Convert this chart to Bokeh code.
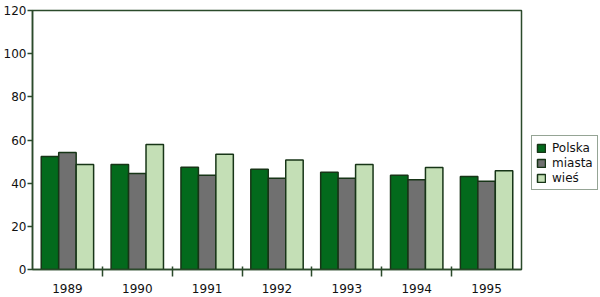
from bokeh.plotting import figure
from bokeh.layouts import row
from bokeh.models import ColumnDataSource, FixedTicker, Legend, LegendItem, Range1d
from bokeh.transform import dodge
from bokeh.embed import file_html
from bokeh.resources import INLINE

years = [1989, 1990, 1991, 1992, 1993, 1994, 1995]
polska = [52.4, 48.7, 47.4, 46.5, 45.1, 43.7, 43.1]
miasta = [54.2, 44.5, 43.7, 42.3, 42.3, 41.6, 40.9]
wies = [48.7, 57.9, 53.4, 50.7, 48.7, 47.3, 45.7]
series_names = ["Polska", "miasta", "wieś"]
y_ticks = [0, 20, 40, 60, 80, 100, 120]

src = ColumnDataSource(dict(year=years, polska=polska, miasta=miasta, wies=wies))

AX = "#2b4a2b"
FONT = "DejaVu Sans"
colors = ["#036a1c", "#707070", "#c4dfb6"]
fields = ["polska", "miasta", "wies"]
offsets = [-0.25, 0.0, 0.25]

p = figure(width=531, height=297, output_backend="svg", toolbar_location=None,
           x_range=Range1d(years[0] - 0.5, years[-1] + 0.5),
           y_range=Range1d(0, 120),
           min_border_left=32, min_border_right=10, min_border_top=10, min_border_bottom=28)
p.background_fill_color = "white"
p.border_fill_color = "white"
p.outline_line_color = AX
p.outline_line_width = 1.5
p.xgrid.visible = False
p.ygrid.visible = False

for f, c, o in zip(fields, colors, offsets):
    p.vbar(x=dodge("year", o, range=p.x_range), top=f, width=0.25, bottom=0,
           source=src, fill_color=c, line_color="#173517", line_width=1.5)

xa = p.xaxis[0]
xa.ticker = FixedTicker(ticks=years, minor_ticks=[y + 0.5 for y in years[:-1]])
xa.major_label_overrides = {y: str(y) for y in years}
xa.major_tick_line_color = None
xa.minor_tick_in = 3
xa.minor_tick_out = 7
xa.minor_tick_line_color = AX
xa.minor_tick_line_width = 1.5
xa.axis_line_color = AX
xa.axis_line_width = 1.5
xa.major_label_standoff = 7
xa.major_label_text_font = FONT
xa.major_label_text_font_size = "12px"
xa.major_label_text_color = "#111111"

ya = p.yaxis[0]
ya.ticker = FixedTicker(ticks=y_ticks)
ya.minor_tick_line_color = None
ya.major_tick_in = 0
ya.major_tick_out = 5
ya.major_tick_line_color = AX
ya.major_tick_line_width = 1.5
ya.axis_line_color = AX
ya.axis_line_width = 1.5
ya.major_label_standoff = 1
ya.major_label_text_font = FONT
ya.major_label_text_font_size = "12px"
ya.major_label_text_color = "#111111"

# legend panel (separate figure holding only the legend; its renderers are hidden)
lg = figure(width=69, height=297, output_backend="svg", toolbar_location=None,
            x_range=Range1d(years[0] - 0.5, years[-1] + 0.5), y_range=Range1d(0, 120),
            min_border_left=0, min_border_right=0, min_border_top=0, min_border_bottom=0)
lg.axis.visible = False
lg.grid.visible = False
lg.outline_line_color = None
lg.background_fill_color = "white"
lg.border_fill_color = "white"
lrs = []
for f, c in zip(fields, colors):
    r = lg.vbar(x="year", top=f, width=0.25, source=src,
                fill_color=c, line_color="#173517", line_width=1.5)
    r.visible = False
    lrs.append(r)

legend = Legend(items=[LegendItem(label=n, renderers=[r]) for n, r in zip(series_names, lrs)],
                location=(0, 79))
legend.border_line_color = AX
legend.border_line_width = 1.5
legend.padding = 4
legend.spacing = 0
legend.margin = 0
legend.label_height = 15
legend.glyph_height = 10
legend.glyph_width = 10
legend.label_standoff = 6
legend.label_text_font = FONT
legend.label_text_font_size = "12px"
legend.label_text_color = "#111111"
legend.background_fill_color = "white"
legend.inactive_fill_alpha = 0
lg.add_layout(legend, "center")

layout = row(p, lg, spacing=0)
open("out.html", "w").write(file_html(layout, INLINE))
